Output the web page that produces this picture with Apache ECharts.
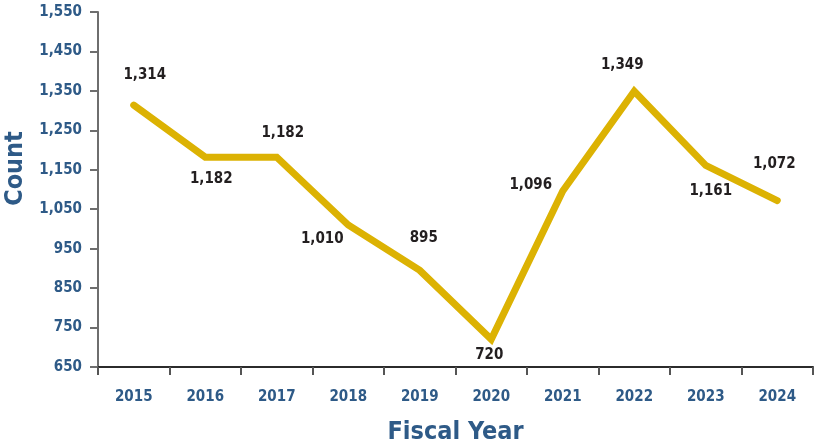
<!DOCTYPE html>
<html>
<head>
<meta charset="utf-8">
<script src="https://cdn.jsdelivr.net/npm/echarts@6/dist/echarts.min.js"></script>
<style>
  html, body { margin: 0; padding: 0; background: #ffffff; }
  #chart { width: 814px; height: 448px; }
</style>
</head>
<body>
<div id="chart"></div>
<script>
// Fiscal years on the category axis
const years = ['2015', '2016', '2017', '2018', '2019', '2020', '2021', '2022', '2023', '2024'];
// Yearly counts
const counts = [1314, 1182, 1182, 1010, 895, 720, 1096, 1349, 1161, 1072];
// Value axis range and step
const yMin = 650;
const yMax = 1550;
const yStep = 100;

// Where each value label sits relative to its point (px)
const labelShift = [[11, -30], [6, 22], [6, -24], [-26, 14], [4, -32], [-2, 16], [-32, -6], [-12, -26], [5, 26], [-3, -36]];

const FONT = '"DejaVu Sans Condensed", "Liberation Sans Narrow", "Roboto", sans-serif';
const BLUE = '#2e5a87';

const chart = echarts.init(document.getElementById('chart'), null, { renderer: 'canvas' });

const seriesData = counts.map((v, i) => ({
  value: v,
  label: { offset: labelShift[i] }
}));

chart.setOption({
  animation: false,
  grid: { left: 98, right: 1, top: 12, bottom: 81, containLabel: false, outerBoundsMode: 'none' },
  xAxis: {
    type: 'category',
    data: years,
    boundaryGap: true,
    name: 'Fiscal Year',
    nameLocation: 'middle',
    nameGap: 53,
    nameTextStyle: { fontFamily: FONT, fontWeight: 'bold', fontSize: 25, color: BLUE },
    axisLine: { lineStyle: { color: '#2b2b2b', width: 2 } },
    axisTick: { show: true, length: 8, alignWithLabel: false, lineStyle: { color: '#555', width: 2 } },
    axisLabel: { margin: 23, fontFamily: FONT, fontWeight: 'bold', fontSize: 15, color: BLUE },
    splitLine: { show: false }
  },
  yAxis: {
    type: 'value',
    min: yMin,
    max: yMax,
    interval: yStep,
    name: 'Count',
    nameLocation: 'middle',
    nameGap: 70,
    nameRotate: 90,
    nameTextStyle: { fontFamily: FONT, fontWeight: 'bold', fontSize: 25, color: BLUE, padding: [0, 0, 0, 42] },
    axisLine: { show: true, lineStyle: { color: '#6e6e6e', width: 2 } },
    axisTick: { show: true, length: 8, lineStyle: { color: '#6e6e6e', width: 2 } },
    axisLabel: {
      margin: 16,
      fontFamily: FONT, fontWeight: 'bold', fontSize: 15, color: BLUE,
      formatter: v => v.toLocaleString('en-US')
    },
    splitLine: { show: false }
  },
  series: [{
    type: 'line',
    data: seriesData,
    symbol: 'circle',
    symbolSize: 1,
    showSymbol: true,
    itemStyle: { color: '#dcb203' },
    lineStyle: { color: '#dcb203', width: 7, cap: 'round', join: 'miter' },
    label: {
      show: true,
      position: 'inside',
      fontFamily: FONT, fontWeight: 'bold', fontSize: 15, color: '#231f20',
      formatter: p => p.value.toLocaleString('en-US')
    }
  }]
});
</script>
</body>
</html>
